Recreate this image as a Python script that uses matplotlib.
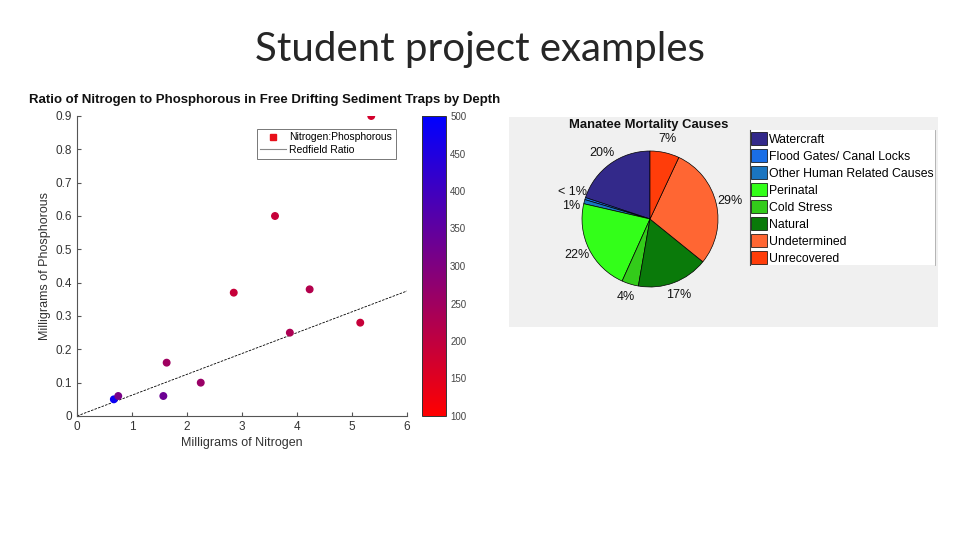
import numpy as np
import matplotlib
matplotlib.use('Agg')
import matplotlib.pyplot as plt
from matplotlib.colors import LinearSegmentedColormap
from matplotlib.lines import Line2D
from matplotlib.patches import Rectangle

plt.rcParams.update({
    'font.family': ['Liberation Sans', 'DejaVu Sans'],
    'axes.linewidth': 0.8,
})

# ---- scatter data: nitrogen vs phosphorous, coloured by depth ----
nitrogen_mg = [0.67, 0.75, 1.57, 1.63, 2.25, 2.85, 3.60, 3.87, 4.23, 5.15, 5.35]
phosphorous_mg = [0.05, 0.06, 0.06, 0.16, 0.10, 0.37, 0.60, 0.25, 0.38, 0.28, 0.90]
depth_m = [480, 310, 330, 250, 260, 190, 190, 230, 220, 190, 170]
redfield_x = [0, 6]
redfield_slope = 1 / 16

# ---- pie data: manatee mortality causes ----
causes = ['Watercraft', 'Flood Gates/ Canal Locks', 'Other Human Related Causes',
          'Perinatal', 'Cold Stress', 'Natural', 'Undetermined', 'Unrecovered']
cause_pct = [20, 0.5, 1, 22, 4, 17, 29, 7]
cause_labels = ['20%', '< 1%', '1%', '22%', '4%', '17%', '29%', '7%']
cause_colors = ['#33298a', '#1a6ee6', '#1a75c0', '#33ff19', '#33cc1a',
                '#0a7a0a', '#ff6633', '#ff3d0a']

W, H = 960, 540
fig = plt.figure(figsize=(9.6, 5.4), dpi=100)
fig.patch.set_facecolor('white')

def fx(px):
    return px / W

def fy(py):
    return 1 - py / H

fig.text(0.5, fy(50), 'Student project examples', ha='center', va='center',
         fontsize=29, family=['Lato', 'DejaVu Sans'], color='#262626')

# ----------------------------------------------------
# scatter panel
# ----------------------------------------------------
cmap = LinearSegmentedColormap.from_list('redblue', ['#ff0000', '#0000ff'])
ax = fig.add_axes([fx(77), fy(416), fx(407) - fx(77), fy(116) - fy(416)])
sc = ax.scatter(nitrogen_mg, phosphorous_mg, c=depth_m, cmap=cmap, vmin=100, vmax=500,
                s=22, zorder=3)
rx = np.array(redfield_x)
ax.plot(rx, rx * redfield_slope, color='black', linestyle=(0, (3, 1.5)), linewidth=0.6)

ax.set_xlim(0, 6)
ax.set_ylim(0, 0.9)
ax.set_xticks(range(7))
ax.set_yticks(np.arange(0, 0.91, 0.1))
ax.set_yticklabels(['0'] + ['%.1f' % v for v in np.arange(0.1, 0.91, 0.1)])
for s in ['top', 'right']:
    ax.spines[s].set_visible(False)
for s in ['left', 'bottom']:
    ax.spines[s].set_color('#555555')
ax.tick_params(direction='in', length=3, labelsize=8.5, colors='#555555',
               labelcolor='#333333')
ax.set_xlabel('Milligrams of Nitrogen', fontsize=9, color='#333333', labelpad=3)
ax.set_ylabel('Milligrams of Phosphorous', fontsize=9, color='#333333', labelpad=3)

handles = [Line2D([], [], marker='s', color='#e8101a', linestyle='none', markersize=4.5),
           Line2D([], [], color='#888888', linewidth=0.8)]
leg = ax.legend(handles, ['Nitrogen:Phosphorous', 'Redfield Ratio'], loc='upper right',
                bbox_to_anchor=(0.982, 0.975), fontsize=7.5, frameon=True, fancybox=False,
                borderpad=0.35, labelspacing=0.25, handlelength=2.5, handletextpad=0.3)
leg.get_frame().set_edgecolor('#555555')
leg.get_frame().set_linewidth(0.7)

fig.text(fx(265), fy(100), 'Ratio of Nitrogen to Phosphorous in Free Drifting Sediment Traps by Depth',
         ha='center', va='center', fontsize=9.5, fontweight='bold', color='#111111')

cax = fig.add_axes([fx(422), fy(416), fx(446) - fx(422), fy(116) - fy(416)])
cb = fig.colorbar(sc, cax=cax, ticks=range(100, 501, 50))
cb.outline.set_edgecolor('#333333')
cb.outline.set_linewidth(0.7)
cax.tick_params(length=0, labelsize=7, labelcolor='#444444', pad=3)

# ----------------------------------------------------
# pie panel
# ----------------------------------------------------
fig.patches.append(Rectangle((fx(509), fy(327)), fx(938) - fx(509), fy(117) - fy(327),
                             transform=fig.transFigure, facecolor='#f0f0f0',
                             edgecolor='none', zorder=-2))
fig.patches.append(Rectangle((fx(750), fy(265)), fx(935) - fx(750), fy(130) - fy(265),
                             transform=fig.transFigure, facecolor='white',
                             edgecolor='none', zorder=-1))
fig.lines.append(Line2D([fx(750), fx(750)], [fy(265), fy(130)], transform=fig.transFigure,
                        color='#444444', linewidth=0.8, zorder=-0.5))
fig.lines.append(Line2D([fx(935), fx(935)], [fy(265), fy(130)], transform=fig.transFigure,
                        color='#aaaaaa', linewidth=0.6, zorder=-0.5))

pax = fig.add_axes([fx(650 - 85), fy(219 + 85), fx(170), 170 / H])
pax.set_zorder(1)
wedges, texts = pax.pie(cause_pct, labels=cause_labels, colors=cause_colors, startangle=90,
                        counterclock=True, labeldistance=1.2,
                        wedgeprops=dict(edgecolor='black', linewidth=0.5),
                        textprops=dict(fontsize=9, color='#111111'))
for t in texts:
    t.set_ha('center')
    t.set_va('center')
texts[1].set_y(texts[1].get_position()[1] + 0.04)
texts[2].set_y(texts[2].get_position()[1] - 0.11)
pax.set_xlim(-1.25, 1.25)
pax.set_ylim(-1.25, 1.25)
pax.set_aspect('equal')

fig.text(fx(649), fy(125), 'Manatee Mortality Causes', ha='center', va='center',
         fontsize=9.4, fontweight='bold', color='#111111', zorder=5)

pleg = fig.legend(wedges, causes, loc='upper left', bbox_to_anchor=(fx(749), fy(130)),
                  frameon=False, fontsize=8.8, handlelength=1.25, handleheight=1.25,
                  handletextpad=0.15, labelspacing=0.28, borderpad=0.2, borderaxespad=0)

fig.savefig('out.png', dpi=100)
